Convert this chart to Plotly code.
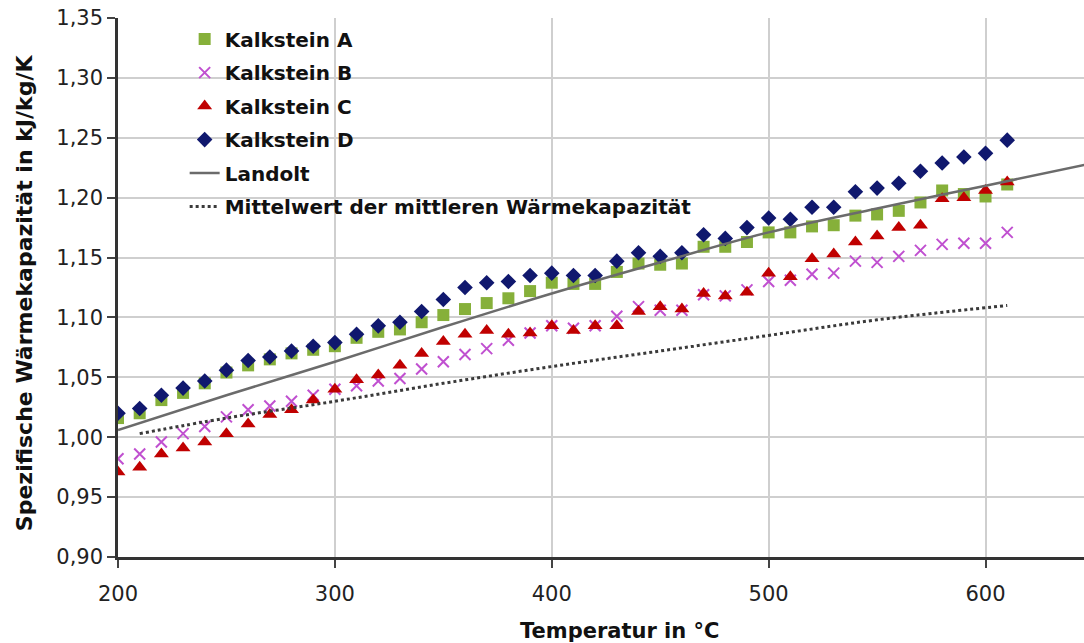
import plotly.graph_objects as go

# Temperatures of the measurement points in °C
temperatur = [200, 210, 220, 230, 240, 250, 260, 270, 280, 290,
              300, 310, 320, 330, 340, 350, 360, 370, 380, 390,
              400, 410, 420, 430, 440, 450, 460, 470, 480, 490,
              500, 510, 520, 530, 540, 550, 560, 570, 580, 590,
              600, 610]

# Specific heat capacity in kJ/kg/K per limestone sample
kalkstein_a = [1.016, 1.020, 1.031, 1.037, 1.045, 1.054, 1.060, 1.065, 1.070, 1.073,
               1.076, 1.083, 1.088, 1.090, 1.096, 1.102, 1.107, 1.112, 1.116, 1.122,
               1.129, 1.128, 1.128, 1.138, 1.145, 1.144, 1.145, 1.159, 1.159, 1.163,
               1.171, 1.171, 1.176, 1.177, 1.185, 1.186, 1.189, 1.196, 1.206, 1.203,
               1.201, 1.211]
kalkstein_b = [0.982, 0.986, 0.996, 1.003, 1.009, 1.017, 1.023, 1.026, 1.030, 1.035,
               1.040, 1.043, 1.047, 1.049, 1.057, 1.063, 1.069, 1.074, 1.081, 1.087,
               1.093, 1.091, 1.093, 1.101, 1.109, 1.106, 1.106, 1.119, 1.118, 1.123,
               1.130, 1.131, 1.136, 1.137, 1.147, 1.146, 1.151, 1.156, 1.161, 1.162,
               1.162, 1.171]
kalkstein_c = [0.971, 0.975, 0.986, 0.991, 0.996, 1.003, 1.011, 1.019, 1.023, 1.031,
               1.040, 1.048, 1.052, 1.060, 1.070, 1.080, 1.086, 1.089, 1.086, 1.087,
               1.093, 1.089, 1.093, 1.093, 1.105, 1.109, 1.107, 1.120, 1.118, 1.121,
               1.137, 1.134, 1.149, 1.153, 1.163, 1.168, 1.175, 1.177, 1.199, 1.200,
               1.206, 1.213]
kalkstein_d = [1.020, 1.024, 1.035, 1.041, 1.047, 1.056, 1.064, 1.067, 1.072, 1.076,
               1.079, 1.086, 1.093, 1.096, 1.105, 1.115, 1.125, 1.129, 1.130, 1.135,
               1.137, 1.135, 1.135, 1.147, 1.154, 1.151, 1.154, 1.169, 1.166, 1.175,
               1.183, 1.182, 1.192, 1.192, 1.205, 1.208, 1.212, 1.222, 1.229, 1.234,
               1.237, 1.248]

# Reference curve (Landolt)
landolt_t = [200, 250, 300, 350, 400, 450, 500, 550, 600, 650]
landolt_cp = [1.006, 1.035, 1.063, 1.092, 1.120, 1.146, 1.171, 1.191, 1.210, 1.229]

# Mean of the mean heat capacity
mittel_t = [210, 250, 300, 350, 400, 450, 500, 550, 610]
mittel_cp = [1.003, 1.016, 1.030, 1.045, 1.059, 1.072, 1.085, 1.098, 1.110]

x_ticks = [200, 300, 400, 500, 600]
y_ticks = [0.90, 0.95, 1.00, 1.05, 1.10, 1.15, 1.20, 1.25, 1.30, 1.35]

FONT = "DejaVu Sans"

fig = go.Figure()

fig.add_trace(go.Scatter(
    x=temperatur, y=kalkstein_a, mode="markers", name="Kalkstein A",
    legendgroup="a",
    marker=dict(symbol="square", size=12, color="#86B03A"),
))
fig.add_trace(go.Scatter(
    x=temperatur, y=kalkstein_b, mode="markers", name="Kalkstein B",
    legendgroup="b",
    marker=dict(symbol="x-thin", size=11, color="#C050D0",
                line=dict(width=2, color="#C050D0")),
))
fig.add_trace(go.Scatter(
    x=temperatur, y=kalkstein_c, mode="markers", name="Kalkstein C",
    legendgroup="c",
    marker=dict(symbol="triangle-up", size=13, color="#C00000"),
))
fig.add_trace(go.Scatter(
    x=temperatur, y=kalkstein_d, mode="markers", name="Kalkstein D",
    legendgroup="d",
    marker=dict(symbol="diamond", size=12, color="#10186E"),
))
fig.add_trace(go.Scatter(
    x=landolt_t, y=landolt_cp, mode="lines", name="Landolt",
    legendgroup="e", line_shape="spline",
    line=dict(color="#6B6B6B", width=2.5),
))
fig.add_trace(go.Scatter(
    x=mittel_t, y=mittel_cp, mode="lines",
    name="Mittelwert der mittleren Wärmekapazität",
    legendgroup="f", line_shape="spline",
    line=dict(color="#3A3A3A", width=3, dash="dot"),
))

# white backing of the legend area, drawn over the grid but under the data
fig.add_shape(type="rect", xref="paper", yref="paper",
              x0=0.002, x1=0.621, y0=0.612, y1=0.996,
              fillcolor="white", line_width=0, layer="between")

fig.add_annotation(text="Temperatur in °C", xref="paper", yref="paper",
                   x=0.52, y=-0.137, xanchor="center", yanchor="middle",
                   showarrow=False,
                   font=dict(family=FONT, size=21, color="#111", weight="bold"))
fig.add_annotation(text="Spezifische Wärmekapazität in kJ/kg/K",
                   xref="paper", yref="paper", textangle=-90,
                   x=-0.096, y=0.49, xanchor="center", yanchor="middle",
                   showarrow=False,
                   font=dict(family=FONT, size=22, color="#111", weight="bold"))

fig.update_xaxes(
    range=[200, 645.4], tickvals=x_ticks, ticks="outside", ticklen=8,
    tickwidth=2, tickcolor="#444", ticklabelstandoff=8,
    showgrid=True, gridcolor="#CFCFCF", gridwidth=1.5,
    showline=True, linecolor="#333", linewidth=2.5,
    tickfont=dict(family=FONT, size=21, color="#222"),
    zeroline=False,
)
fig.update_yaxes(
    range=[0.90, 1.35], tickvals=y_ticks, tickformat=".2f",
    ticks="outside", ticklen=8, tickwidth=2, tickcolor="#444",
    showgrid=True, gridcolor="#CFCFCF", gridwidth=1.5,
    showline=True, linecolor="#333", linewidth=2.5,
    tickfont=dict(family=FONT, size=21, color="#222"),
    zeroline=False,
)

fig.update_layout(
    width=1084, height=643,
    margin=dict(l=118, r=0, t=18, b=86),
    paper_bgcolor="white", plot_bgcolor="white",
    separators=",.",
    showlegend=True,
    legend=dict(
        x=0.069, y=0.997, xanchor="left", yanchor="top",
        bgcolor="rgba(0,0,0,0)", borderwidth=0,
        font=dict(family=FONT, size=20, color="#111", weight="bold"),
        tracegroupgap=4.5, traceorder="grouped",
    ),
)

fig.write_html("out.html")
